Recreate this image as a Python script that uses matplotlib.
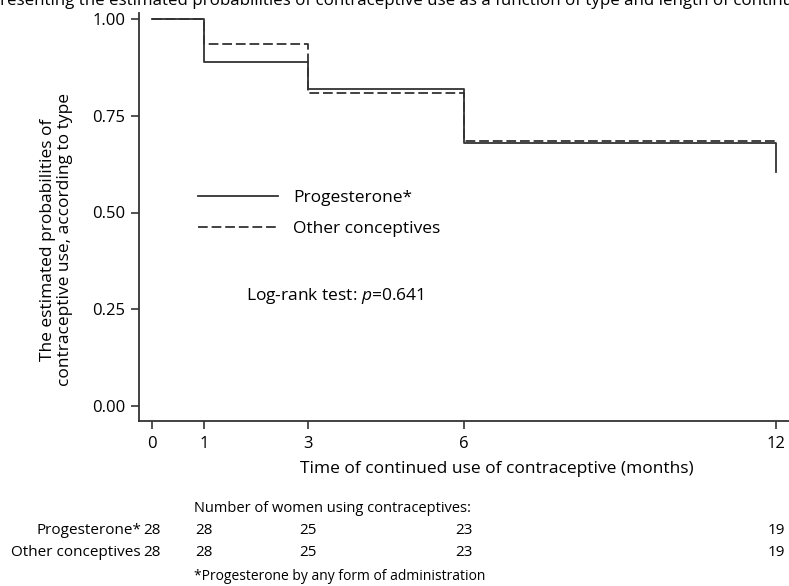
import matplotlib
matplotlib.use('Agg')
import matplotlib.pyplot as plt

plt.rcParams['font.family'] = ['Open Sans', 'DejaVu Sans']
plt.rcParams['mathtext.fontset'] = 'custom'
plt.rcParams['mathtext.rm'] = 'Open Sans'
plt.rcParams['mathtext.it'] = 'Open Sans:italic'
plt.rcParams['lines.scale_dashes'] = False

# Kaplan-Meier estimates
meses = [0, 1, 3, 6, 12]
prob_progesterona = [1.00, 0.889, 0.819, 0.680, 0.605]
prob_otros = [1.00, 0.935, 0.809, 0.685, 0.685]

# numero de mujeres en riesgo
riesgo_progesterona = [28, 28, 25, 23, 19]
riesgo_otros = [28, 28, 25, 23, 19]

y_ticks = [0.00, 0.25, 0.50, 0.75, 1.00]

color = '#333333'
W, H = 789, 586

fig = plt.figure(figsize=(W/100, H/100), dpi=100)
ax = fig.add_axes([139/W, 1 - 421/H, 650/W, 408/H])

ax.step(meses, prob_progesterona, where='post', color=color, lw=1.3,
        label='Progesterone*')
ax.step(meses, prob_otros, where='post', color=color, lw=1.3,
        dashes=(7, 2.8), label='Other conceptives')

ax.set_xlim(-13/52, (W - 152)/52)
ax.set_ylim(-15/387, 1 + 6/387)
ax.set_xticks(meses)
ax.set_yticks(y_ticks)
ax.set_yticklabels([f'{v:.2f}' for v in y_ticks])
ax.tick_params(direction='out', length=6, width=1.2, color=color,
               labelsize=12, pad=4)
ax.tick_params(axis='x', pad=5)
for s in ['top', 'right']:
    ax.spines[s].set_visible(False)
for s in ['left', 'bottom']:
    ax.spines[s].set_color(color)
    ax.spines[s].set_linewidth(1.3)

ax.set_xlabel('Time of continued use of contraceptive (months)', fontsize=12.5)
ax.xaxis.set_label_coords((497 - 139)/650, -0.097)
ax.set_ylabel('The estimated probabilities of\ncontraceptive use, according to type',
              fontsize=12.5, linespacing=1.05)
ax.yaxis.set_label_coords((73 - 139)/650, (421 - 240)/408)

ax.legend(loc='upper left', bbox_to_anchor=((198 - 139)/650, (421 - 190)/408),
          frameon=False, handlelength=4.6, handletextpad=0.9,
          labelspacing=0.85, borderpad=0, borderaxespad=0, fontsize=12.5)

ax.text((246 - 139)/650, (421 - 296)/408, 'Log-rank test: $p$=0.641',
        transform=ax.transAxes, fontsize=12.5, va='center', ha='left')

# titulo recortado arriba
fig.text(0, 1 - 5/H,
         'resenting the estimated probabilities of contraceptive use as a function of type and length of continued use',
         fontsize=12.2, va='baseline', ha='left')

# tabla de numero en riesgo
fig.text(194/W, 1 - 509/H, 'Number of women using contraceptives:',
         fontsize=10.5, va='center', ha='left')
filas = [('Progesterone*', riesgo_progesterona, 530),
         ('Other conceptives', riesgo_otros, 552)]
for nombre, valores, ypx in filas:
    fig.text(141/W, 1 - ypx/H, nombre, fontsize=11, va='center', ha='right')
    for m, n in zip(meses, valores):
        ax.annotate(str(n), xy=(m, 1 - ypx/H), xycoords=('data', 'figure fraction'),
                    fontsize=11, va='center', ha='center', annotation_clip=False)

fig.text(194/W, 1 - 576/H, '*Progesterone by any form of administration',
         fontsize=10, va='center', ha='left')

fig.savefig('out.png', dpi=100)
